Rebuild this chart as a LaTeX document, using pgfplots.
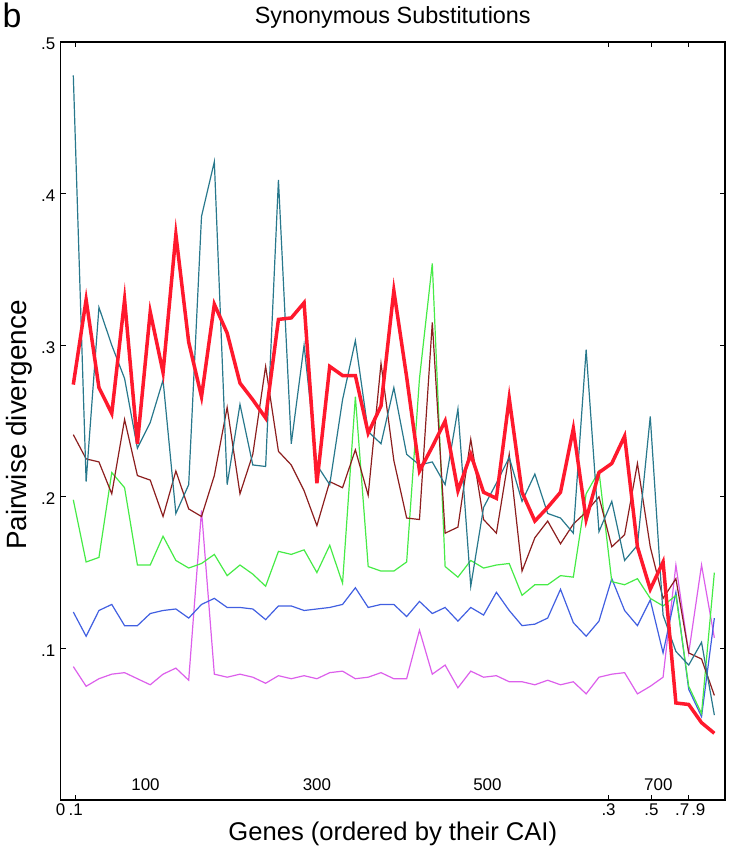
\documentclass[border=0pt]{standalone}
\usepackage{pgfplots}
\pgfplotsset{compat=1.18}
\usepackage{pgfplotstable}
\usepackage{fontspec}
\setmainfont{Liberation Sans}
\setsansfont{Liberation Sans}

\definecolor{cred}{RGB}{255,25,45}
\definecolor{cteal}{RGB}{40,120,140}
\definecolor{cbrown}{RGB}{140,30,30}
\definecolor{cgreen}{RGB}{70,235,70}
\definecolor{cblue}{RGB}{65,95,225}
\definecolor{cmag}{RGB}{220,95,235}

\pgfplotstableread{
i red teal brown green blue mag
0 .274 .478 .241 .198 .124 .088
1 .330 .210 .225 .157 .108 .075
2 .272 .325 .223 .160 .125 .080
3 .255 .300 .202 .216 .129 .083
4 .330 .278 .251 .206 .115 .084
5 .235 .232 .214 .155 .115 .080
6 .322 .249 .211 .155 .123 .076
7 .282 .277 .187 .174 .125 .083
8 .373 .189 .217 .158 .126 .087
9 .302 .208 .192 .153 .120 .079
10 .266 .385 .187 .156 .129 .191
11 .327 .421 .214 .162 .133 .083
12 .308 .208 .259 .148 .127 .081
13 .275 .261 .202 .155 .127 .083
14 .264 .221 .228 .149 .126 .081
15 .252 .220 .286 .141 .119 .077
16 .317 .409 .230 .164 .128 .082
17 .318 .235 .221 .162 .128 .080
18 .328 .300 .204 .165 .125 .082
19 .209 .221 .181 .150 .126 .080
20 .286 .208 .210 .168 .127 .084
21 .280 .264 .206 .143 .129 .085
22 .280 .303 .231 .266 .140 .080
23 .242 .243 .201 .154 .127 .081
24 .260 .235 .288 .151 .129 .084
25 .336 .272 .224 .151 .129 .080
26 .279 .228 .186 .157 .121 .080
27 .217 .221 .185 .278 .131 .112
28 .233 .223 .315 .354 .123 .083
29 .250 .208 .176 .154 .127 .089
30 .204 .258 .180 .147 .118 .074
31 .228 .141 .238 .158 .127 .085
32 .203 .193 .185 .153 .122 .081
33 .199 .209 .176 .155 .137 .082
34 .265 .226 .228 .156 .125 .078
35 .203 .197 .151 .135 .115 .078
36 .184 .215 .173 .142 .116 .076
37 .193 .189 .184 .142 .120 .079
38 .203 .186 .169 .148 .139 .076
39 .245 .176 .182 .147 .117 .078
40 .185 .297 .190 .202 .108 .070
41 .216 .177 .200 .217 .118 .081
42 .222 .197 .167 .144 .146 .083
43 .240 .158 .175 .142 .125 .084
44 .167 .168 .222 .146 .115 .070
45 .139 .253 .167 .133 .132 .075
46 .157 .122 .133 .128 .097 .081
47 .064 .098 .146 .135 .137 .155
48 .063 .089 .097 .075 .073 .097
49 .051 .104 .093 .057 .055 .155
50 .044 .056 .069 .150 .120 .107
}\datatable

\begin{document}
\begin{tikzpicture}
\useasboundingbox (0,0) rectangle (729bp,853bp);
\begin{axis}[
  at={(60.7bp,53bp)}, anchor=south west,
  scale only axis, width=664.3bp, height=758bp,
  xmin=-0.983, xmax=50.83, ymin=0, ymax=0.5,
  axis line style={line width=1.1bp},
  tick align=inside,
  xtick pos=both, ytick pos=both,
  xticklabel pos=lower, yticklabel pos=left,
  major tick length=5bp,
  tick style={line width=1bp, black},
  xtick={0.187,41.75,45.1,48.0},
  xticklabels={.1,.3,.5,{}},
  extra x ticks={-0.983,47.5,48.75},
  extra x tick labels={0,.7,.9},
  extra x tick style={major tick length=0pt},
  ytick={0.1,0.2,0.3,0.4,0.5},
  yticklabels={.1,.2,.3,.4,.5},
  tick label style={font=\fontsize{17}{19}\selectfont},
  yticklabel style={xshift=-2bp, yshift=-2bp},
  clip=false,
]
\addplot[cmag, line width=1.2bp] table[x=i, y=mag] {\datatable};
\addplot[cblue, line width=1.2bp] table[x=i, y=blue] {\datatable};
\addplot[cgreen, line width=1.2bp] table[x=i, y=green] {\datatable};
\addplot[cbrown, line width=1.2bp] table[x=i, y=brown] {\datatable};
\addplot[cteal, line width=1.2bp] table[x=i, y=teal] {\datatable};
\addplot[cred, line width=3.5bp] table[x=i, y=red] {\datatable};
\node[font=\fontsize{17}{19}\selectfont] at (axis cs:5.63,0.0099) {100};
\node[font=\fontsize{17}{19}\selectfont] at (axis cs:19.0,0.0099) {300};
\node[font=\fontsize{17}{19}\selectfont] at (axis cs:32.3,0.0099) {500};
\node[font=\fontsize{17}{19}\selectfont] at (axis cs:45.63,0.0099) {700};
\end{axis}
\node[font=\fontsize{23.5}{28}\selectfont] at (392.8bp,836bp) {Synonymous Substitutions};
\node[font=\fontsize{25.7}{29}\selectfont] at (392.8bp,19bp) {Genes (ordered by their CAI)};
\node[font=\fontsize{28}{32}\selectfont, rotate=90] at (19bp,428bp) {Pairwise divergence};
\node[font=\fontsize{34}{38}\selectfont] at (12bp,838bp) {b};
\end{tikzpicture}
\end{document}
